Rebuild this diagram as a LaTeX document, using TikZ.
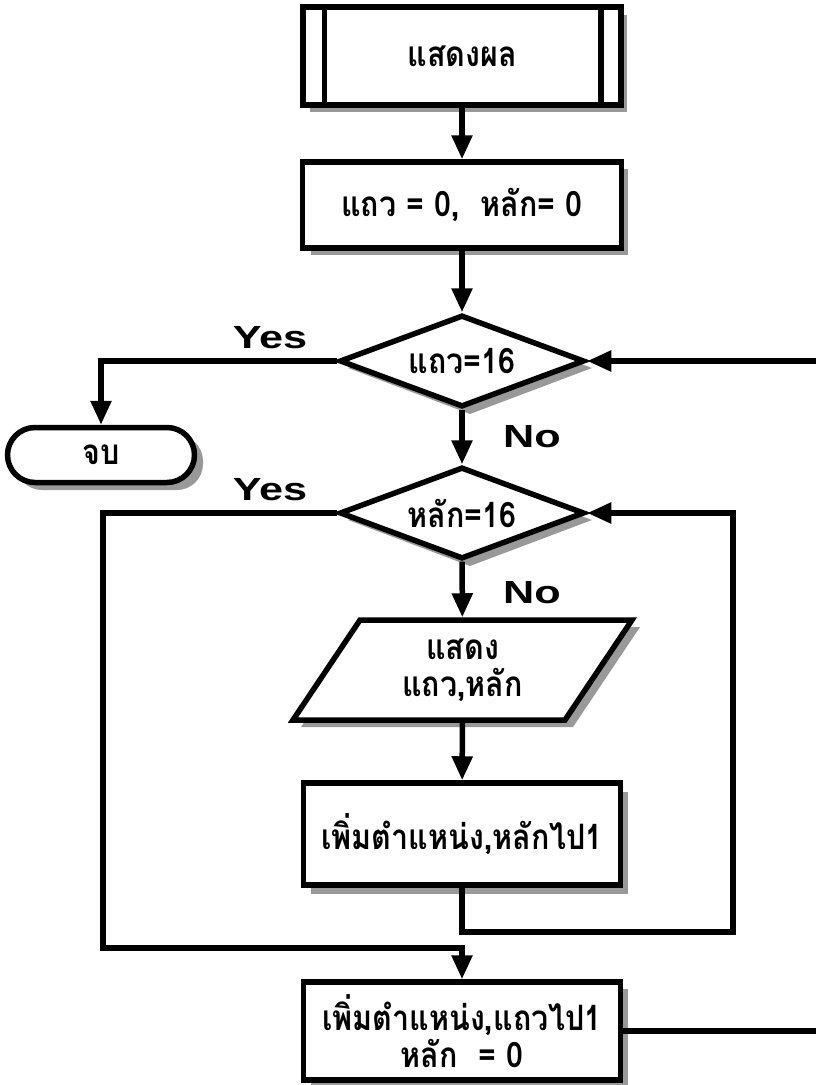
\documentclass[tikz,border=0pt]{standalone}
\usepackage{fontspec}
\setmainfont{Liberation Sans}
\newfontfamily\labfont[FakeStretch=1.35]{Liberation Sans}
\newfontfamily\thaifont[Script=Thai,FakeStretch=0.87]{Loma}
\usetikzlibrary{shapes.geometric,shapes.misc,arrows.meta,calc}
\definecolor{shadowc}{gray}{0.6}
\begin{document}
\begin{tikzpicture}[x=1pt,y=-1pt,
  ln/.style={line width=5.5pt},
  ln,
  shc/.style={fill=shadowc,draw=none},
  thaitext/.style={font=\thaifont\bfseries\fontsize{35}{37}\selectfont,align=center},
  box/.style={draw,ln,fill=white,rectangle,inner sep=0pt,thaitext},
  dia/.style={draw,ln,fill=white,diamond,aspect=2.66,inner sep=0pt,minimum width=245pt,minimum height=92pt,thaitext},
  term/.style={draw,ln,fill=white,rounded rectangle,inner sep=0pt,minimum width=187pt,minimum height=55pt,thaitext},
  arr/.style={ln,-{Triangle[length=24pt,width=20pt]}},
  lab/.style={font=\labfont\bfseries\fontsize{32}{34}\selectfont,inner sep=0pt}
]
\useasboundingbox (0,0) rectangle (815,1085);

% shadows (drawn first, shapes cover them)
\fill[shc] (310,15) rectangle (627,112);
\fill[shc] (311,169) rectangle (628,255);
\fill[shc] (470,322) -- (592,368) -- (470,414) -- (348,368) -- cycle;
\fill[shc,rounded corners=26pt] (16,435) rectangle (203,490);
\fill[shc] (470,474) -- (592,520) -- (470,566) -- (348,520) -- cycle;
\fill[shc] (368,627) -- (640,627) -- (573,727) -- (301,727) -- cycle;
\fill[shc] (311,792) rectangle (628,894);
\fill[shc] (311,989) rectangle (628,1087);

% nodes
\node[box,minimum width=318pt,minimum height=98pt] (pp) at (462,56) {แสดงผล};
\draw[ln] ($(pp.north west)+(24,0)$) -- ($(pp.south west)+(24,0)$);
\draw[ln] ($(pp.north east)+(-23,0)$) -- ($(pp.south east)+(-23,0)$);

\node[box,minimum width=319pt,minimum height=86pt] (init) at (462,205) {แถว = 0,\ \ หลัก= 0};
\node[dia] (d1) at (462,361) {แถว=16};
\node[term] (end) at (101,455) {จบ};
\node[dia] (d2) at (462,513) {หลัก=16};

\draw[ln,fill=white] (360,620) -- (632,620) -- (565,720) -- (293,720) -- cycle;
\node[thaitext,inner sep=0pt,outer sep=2.75pt,minimum width=272pt,minimum height=100pt] (para) at (462.5,670) {แสดง\\แถว,หลัก};

\node[box,minimum width=317pt,minimum height=102pt] (inc) at (462,834) {เพิ่มตำแหน่ง,หลักไป1};
\node[box,minimum width=317pt,minimum height=98pt] (incr) at (462,1031) {เพิ่มตำแหน่ง,แถวไป1\\หลัก \ = 0};

% labels
\node[lab] (y1) at (270,338) {Yes};
\node[lab] (n1) at (532,437) {No};
\node[lab] (y2) at (270,490) {Yes};
\node[lab] (n2) at (532,593) {No};

% connectors
\coordinate (c1) at (733,932);
\coordinate (c2) at (103,948);
\coordinate (r1) at (830,1031);
\coordinate (r2) at (830,361);

\draw[arr] (pp) -- (init);
\draw[arr] (init) -- (d1);
\draw[arr] (d1.west) -| (end.north);
\draw[arr] (d1) -- (d2);
\draw[arr] (d2) -- (para);
\draw[arr] (para) -- (inc);
\draw[arr] (inc.south) |- (c1) |- (d2.east);
\draw[arr] (d2.west) -| (c2) -| (incr.north);
\draw[ln] (incr.east) -- (r1);
\draw[arr] (r2) -- (d1.east);
\end{tikzpicture}
\end{document}
